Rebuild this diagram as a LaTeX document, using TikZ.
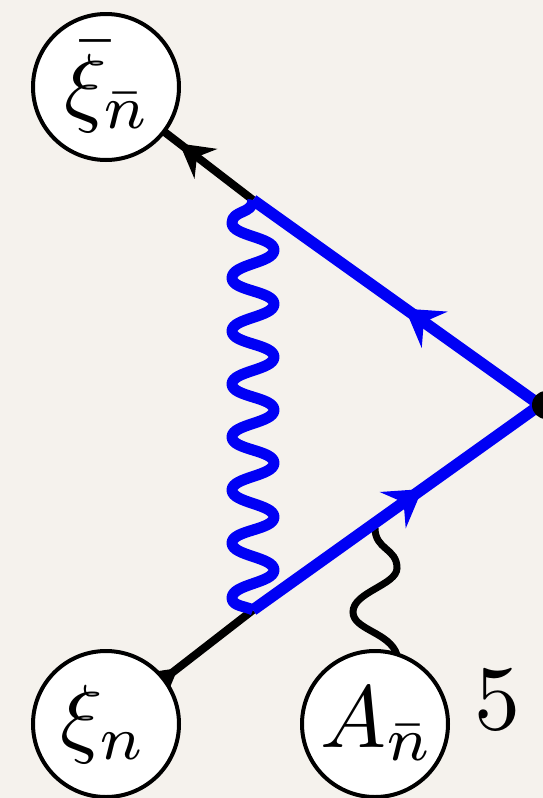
\documentclass[tikz,border=0pt]{standalone}
\usetikzlibrary{arrows.meta,decorations.markings}
\definecolor{paper}{HTML}{F5F2ED}
\definecolor{fermion}{HTML}{0000F5}
\tikzset{
  extnode/.style={circle,draw=black,fill=white,line width=4pt,minimum size=146pt,inner sep=0pt},
  blackline/.style={draw=black,line width=8pt},
  wiggleline/.style={draw=black,line width=7pt},
  blueline/.style={draw=fermion,line width=11.5pt},
  bosonline/.style={draw=fermion,line width=11pt,line join=round},
  markblue/.style={postaction={decorate},decoration={markings,mark=at position #1 with {\arrow[fermion]{Stealth[length=36pt,width=44pt,inset=13pt]}}}},
  markblack/.style={postaction={decorate},decoration={markings,mark=at position #1 with {\arrow[black]{Stealth[length=33pt,width=37pt,inset=11pt]}}}},
}
\begin{document}
\begin{tikzpicture}[x=1pt,y=-1pt]
\useasboundingbox (0,0) rectangle (543,798);
\fill[paper] (0,0) rectangle (543,798);
\clip (0,0) rectangle (543,798);
\coordinate (top) at (253,200);
\coordinate (bot) at (253,610);
\coordinate (apex) at (540,405);
\coordinate (dot) at (546,405);
\coordinate (attach) at (375,528);
\coordinate (c1) at (106,87);
\coordinate (c2) at (106,724);
% black legs
\draw[blackline,markblack=0.50] (top) -- (c1);
\draw[blackline,markblack=0.49] (c2) -- (bot);
% gluon to A
\draw[wiggleline] (attach) .. controls (375,550) and (397,548) .. (397,568)
  .. controls (397,585) and (353,592) .. (353,612)
  .. controls (353,630) and (390,632) .. (397,655);
% blue boson
\draw[bosonline] (top) .. controls (253,214) and (232,210) .. (232,223)
  .. controls (232,236) and (274,237) .. (274,250)
  .. controls (274,263) and (232,264) .. (232,278)
  .. controls (232,291) and (274,291) .. (274,304)
  .. controls (274,317) and (232,318) .. (232,331)
  .. controls (232,344) and (274,344) .. (274,357)
  .. controls (274,370) and (232,371) .. (232,384)
  .. controls (232,397) and (274,397) .. (274,410)
  .. controls (274,423) and (232,424) .. (232,437)
  .. controls (232,450) and (274,450) .. (274,463)
  .. controls (274,476) and (232,477) .. (232,490)
  .. controls (232,503) and (274,504) .. (274,517)
  .. controls (274,530) and (232,530) .. (232,543)
  .. controls (232,556) and (274,557) .. (274,570)
  .. controls (274,583) and (232,584) .. (232,598)
  .. controls (232,606) and (245,606) .. (bot);
% blue fermions
\draw[blueline,markblue=0.47] (apex) -- (top);
\draw[blueline,markblue=0.59] (bot) -- (apex);
\fill[black] (dot) circle (14pt);
% external nodes
\node[extnode] (xibar) at (c1) {\scalebox{8.8}{$\bar\xi_{\bar n}$}\hspace*{-4pt}};
\node[extnode] (xi) at (c2) {\raisebox{-2.5pt}{\scalebox{8.8}{$\xi_n$}}\hspace*{4pt}};
\node[extnode] (A) at (375,724) {\scalebox{8.8}{$A_{\bar n}$}\hspace*{-4pt}};
\node[inner sep=0pt] (five) at (497,700) {\scalebox{9.2}{$5$}};
\end{tikzpicture}
\end{document}
